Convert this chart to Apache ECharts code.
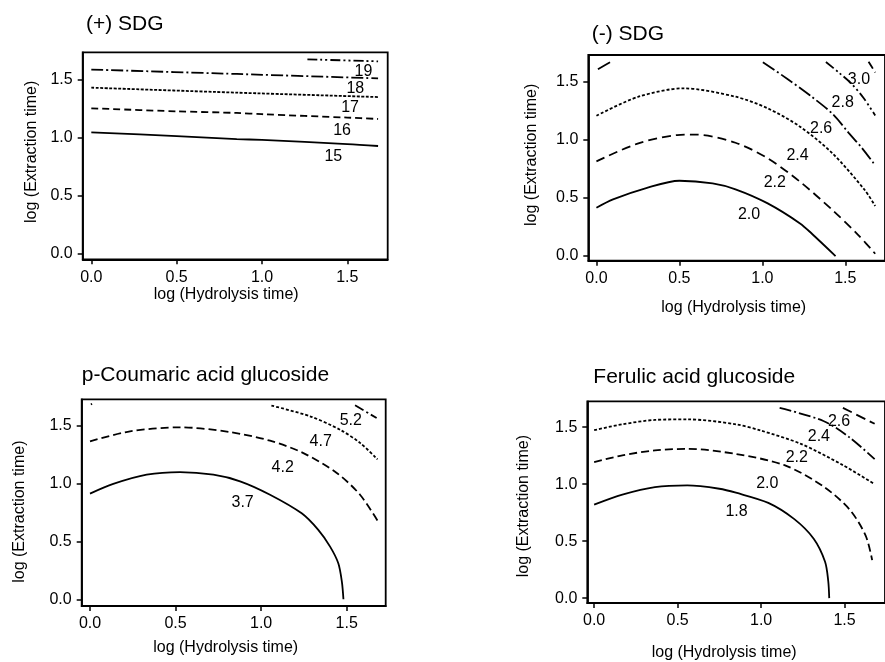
<!DOCTYPE html>
<html>
<head>
<meta charset="utf-8">
<script src="https://cdn.jsdelivr.net/npm/echarts@6/dist/echarts.min.js"></script>
<style>html,body{margin:0;padding:0;background:#fff;}#c{width:885px;height:662px;}</style>
</head>
<body>
<div id="c"></div>
<script>
// ---------- data ----------
const panelTitles = ['(+) SDG', '(-) SDG', 'p-Coumaric acid glucoside', 'Ferulic acid glucoside'];
const xAxisName = 'log (Hydrolysis time)';
const yAxisName = 'log (Extraction time)';
const hydTicks = [0, 0.5, 1.0, 1.5];
const extTicks = [0, 0.5, 1.0, 1.5];

// (+) SDG contours
const sdgP_15 = [[0,1.049],[0.5,1.017],[0.852,0.991],[1.0,0.983],[1.5,0.948],[1.68,0.931]];
const sdgP_16 = [[0,1.256],[0.5,1.230],[0.852,1.216],[1.0,1.205],[1.5,1.176],[1.68,1.164]];
const sdgP_17 = [[0,1.434],[0.852,1.391],[1.68,1.353]];
const sdgP_18 = [[0,1.590],[0.852,1.552],[1.68,1.514]];
const sdgP_19 = [[1.266,1.678],[1.68,1.661]];
const sdgP_labels = [[1.418,0.842,'15'],[1.469,1.066,'16'],[1.516,1.259,'17'],[1.547,1.425,'18'],[1.594,1.569,'19']];

// (-) SDG contours
const sdgM_20 = [[0,0.416],[0.1,0.488],[0.3,0.585],[0.5,0.648],[0.7,0.625],[0.838,0.574],[1.032,0.453],[1.227,0.281],[1.3,0.19],[1.441,0.0]];
const sdgM_22 = [[0,0.815],[0.253,0.97],[0.487,1.041],[0.6,1.045],[0.838,0.975],[1.032,0.841],[1.227,0.639],[1.422,0.396],[1.578,0.181],[1.68,0.02]];
const sdgM_24 = [[0,1.207],[0.253,1.371],[0.526,1.443],[0.838,1.371],[1.032,1.271],[1.227,1.113],[1.422,0.884],[1.617,0.568],[1.68,0.43]];
const sdgM_26 = [[1.003,1.668],[1.149,1.526],[1.286,1.383],[1.422,1.225],[1.52,1.06],[1.6,0.93],[1.68,0.78]];
const sdgM_26b = [[0.009,1.607],[0.097,1.681]];
const sdgM_28 = [[1.383,1.67],[1.46,1.58],[1.539,1.48],[1.61,1.36],[1.68,1.21]];
const sdgM_30 = [[1.64,1.672],[1.68,1.58]];
const sdgM_labels = [[0.92,0.361,'2.0'],[1.075,0.634,'2.2'],[1.212,0.863,'2.4'],[1.354,1.093,'2.6'],[1.484,1.317,'2.8'],[1.582,1.52,'3.0']];

// p-Coumaric acid glucoside contours
const pc_37 = [[0,0.913],[0.136,0.997],[0.331,1.077],[0.526,1.1],[0.721,1.077],[0.877,1.02],[1.052,0.904],[1.237,0.743],[1.334,0.6],[1.403,0.455],[1.451,0.311],[1.472,0.15],[1.481,0.0]];
const pc_42 = [[0,1.366],[0.234,1.452],[0.526,1.487],[0.818,1.446],[1.052,1.371],[1.247,1.264],[1.442,1.092],[1.578,0.904],[1.68,0.68]];
const pc_47 = [[1.06,1.675],[1.286,1.582],[1.461,1.466],[1.58,1.35],[1.68,1.21]];
const pc_52 = [[1.549,1.677],[1.675,1.567]];
const pc_dot = [[0.005,1.684],[0.012,1.690]];
const pc_labels = [[0.892,0.838,'3.7'],[1.126,1.135,'4.2'],[1.348,1.36,'4.7'],[1.524,1.541,'5.2']];

// Ferulic acid glucoside contours
const fa_18 = [[0,0.82],[0.169,0.908],[0.364,0.974],[0.558,0.989],[0.75,0.96],[0.849,0.925],[1.043,0.836],[1.199,0.693],[1.315,0.521],[1.383,0.319],[1.402,0.15],[1.408,0.0]];
const fa_20 = [[0,1.193],[0.169,1.253],[0.364,1.297],[0.558,1.31],[0.849,1.265],[1.14,1.167],[1.373,0.98],[1.529,0.779],[1.626,0.549],[1.665,0.334]];
const fa_22 = [[0,1.474],[0.169,1.526],[0.364,1.564],[0.558,1.569],[0.849,1.526],[1.0,1.47],[1.238,1.354],[1.49,1.167],[1.68,1.0]];
const fa_24 = [[1.111,1.67],[1.373,1.555],[1.529,1.411],[1.68,1.22]];
const fa_26 = [[1.49,1.67],[1.68,1.53]];
const fa_labels = [[0.853,0.762,'1.8'],[1.037,1.009,'2.0'],[1.214,1.233,'2.2'],[1.346,1.414,'2.4'],[1.467,1.549,'2.6']];

// ---------- styling / layout ----------
const FONT = '"Liberation Sans", Arial, Helvetica, sans-serif';
const INK = '#000';
const SOLID = 'solid', DASH = [8,4], DOT = [3,2], DASHDOT = [12,3,2,3], DASHDOTDOT = [10,3,2,3,2,3], LONGDASH = [10,5];

const panels = [
  { L:{left:82.7, top:52.3, width:305, height:207, xMin:-0.0504, xMax:1.7364, yMin:-0.0457, yMax:1.7388,
       tLeft:86, tTop:14, xGap:26, xShift:-9, yGap:43, yShift:4},
    lines:[[sdgP_15,SOLID],[sdgP_16,[7,4]],[sdgP_17,[3,1.5]],[sdgP_18,DASHDOT],[sdgP_19,DASHDOTDOT]], labels:sdgP_labels },
  { L:{left:588.3, top:55, width:306, height:205.7, xMin:-0.049, xMax:1.739, yMin:-0.040, yMax:1.730,
       tLeft:591.7, tTop:23.5, xGap:38.5, xShift:-3, yGap:49, yShift:3},
    lines:[[sdgM_20,SOLID],[sdgM_22,[9,5]],[sdgM_24,DOT],[sdgM_26,[14,3,2,3]],[sdgM_26b,[14,3,2,3]],[sdgM_28,DASHDOTDOT],[sdgM_30,DASH]], labels:sdgM_labels },
  { L:{left:81.7, top:399.3, width:304, height:206.7, xMin:-0.0485, xMax:1.728, yMin:-0.058, yMax:1.729,
       tLeft:81.7, tTop:365, xGap:33.5, xShift:-8, yGap:54, yShift:-9},
    lines:[[pc_37,SOLID],[pc_42,DASH],[pc_47,DOT],[pc_52,[10,3,2,3]],[pc_dot,SOLID]], labels:pc_labels },
  { L:{left:587.3, top:401.3, width:306, height:205.4, xMin:-0.041, xMax:1.742, yMin:-0.043, yMax:1.7276,
       tLeft:593.3, tTop:367, xGap:42, xShift:-12, yGap:56, yShift:-4},
    lines:[[fa_18,SOLID],[fa_20,DASH],[fa_22,DOT],[fa_24,DASHDOT],[fa_26,LONGDASH]], labels:fa_labels }
];

function shiftPad(d){ return d < 0 ? [0, -2*d, 0, 0] : [0, 0, 0, 2*d]; }

const option = { animation:false, backgroundColor:'#fff', title:[], grid:[], xAxis:[], yAxis:[], series:[] };

panels.forEach((p, i) => {
  const L = p.L;
  option.title.push({ text: panelTitles[i], left: L.tLeft, top: L.tTop, padding: 0,
    textStyle:{ fontFamily: FONT, fontSize: 21, fontWeight:'normal', color: INK } });
  option.grid.push({ left: L.left, top: L.top, width: L.width, height: L.height, show: true,
    borderColor: INK, borderWidth: 1.8, backgroundColor:'transparent', containLabel:false });
  option.xAxis.push({ type:'value', gridIndex:i, min:L.xMin, max:L.xMax,
    name: xAxisName, nameLocation:'middle', nameGap:L.xGap,
    nameTextStyle:{ fontFamily:FONT, fontSize:16, color:INK, padding: shiftPad(L.xShift) },
    axisLine:{ show:true, onZero:false, lineStyle:{ color:INK, width:1.8 } },
    axisTick:{ show:true, length:5, customValues: hydTicks, lineStyle:{ color:INK, width:1.5 } },
    axisLabel:{ customValues: hydTicks, formatter: v => Number(v).toFixed(1), fontFamily:FONT, fontSize:16, color:INK, margin:10 },
    splitLine:{ show:false } });
  option.yAxis.push({ type:'value', gridIndex:i, min:L.yMin, max:L.yMax,
    name: yAxisName, nameLocation:'middle', nameGap:L.yGap, nameRotate:90,
    nameTextStyle:{ fontFamily:FONT, fontSize:16, color:INK, padding: shiftPad(L.yShift) },
    axisLine:{ show:true, onZero:false, lineStyle:{ color:INK, width:1.8 } },
    axisTick:{ show:true, length:5, customValues: extTicks, lineStyle:{ color:INK, width:1.5 } },
    axisLabel:{ customValues: extTicks, formatter: v => Number(v).toFixed(1), fontFamily:FONT, fontSize:16, color:INK, margin:10 },
    splitLine:{ show:false } });
  p.lines.forEach(([data, dash]) => {
    option.series.push({ type:'line', xAxisIndex:i, yAxisIndex:i, data: data, smooth:0.3,
      showSymbol:false, symbol:'none', silent:true,
      lineStyle:{ color:INK, width:1.8, type: dash } });
  });
  option.series.push({ type:'scatter', xAxisIndex:i, yAxisIndex:i, data: p.labels,
    symbol:'circle', symbolSize:1, itemStyle:{ color:'rgba(0,0,0,0)' }, silent:true, z:5,
    label:{ show:true, position:'inside', formatter: q => q.data[2], fontFamily:FONT, fontSize:16,
      color:INK, opacity:1, textBorderWidth:0, textShadowBlur:0 } });
});

const chart = echarts.init(document.getElementById('c'), null, { renderer:'canvas' });
chart.setOption(option);
</script>
</body>
</html>
